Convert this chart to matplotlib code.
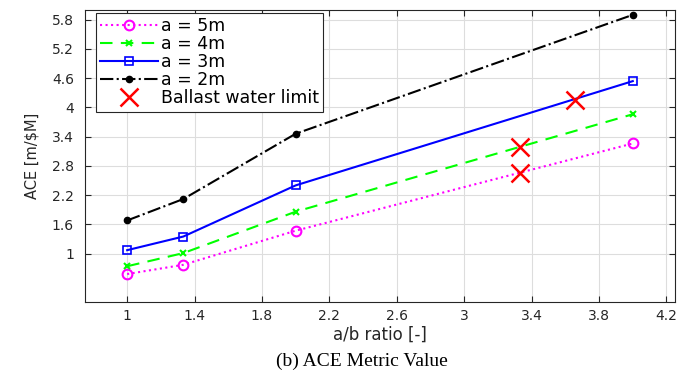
import matplotlib
matplotlib.use("Agg")
import matplotlib.pyplot as plt

# data
ratio = [1, 4/3, 2, 4]
ace_5m = [0.58, 0.77, 1.47, 3.26]
ace_4m = [0.74, 1.01, 1.86, 3.86]
ace_3m = [1.07, 1.35, 2.40, 4.54]
ace_2m = [1.68, 2.12, 3.46, 5.90]
limit_x = [3.33, 3.33, 3.66]
limit_y = [2.66, 3.18, 4.16]

xticks = [1, 1.4, 1.8, 2.2, 2.6, 3, 3.4, 3.8, 4.2]
yticks = [1, 1.6, 2.2, 2.8, 3.4, 4, 4.6, 5.2, 5.8]

plt.rcParams['font.family'] = ['DejaVu Sans']

fig = plt.figure(figsize=(6.94, 3.74), dpi=100)
ax = fig.add_axes([0.1225, 0.1917, 0.850, 0.7816])

ax.plot(ratio, ace_5m, ':', color='#ff00ff', lw=1.5, marker='o', ms=7,
        mfc='none', mew=1.5, label='a = 5m')
ax.plot(ratio, ace_4m, '--', color='#00ff00', lw=1.5, marker='x', ms=5,
        mew=1.5, dashes=(6, 4), label='a = 4m')
ax.plot(ratio, ace_3m, '-', color='#0000ff', lw=1.5, marker='s', ms=6,
        mfc='none', mew=1.2, label='a = 3m')
ax.plot(ratio, ace_2m, '-.', color='k', lw=1.5, marker='o', ms=4.5,
        label='a = 2m')
ax.plot(limit_x, limit_y, 'x', color='#ff0000', ms=13, mew=1.8, ls='none',
        label='Ballast water limit')

ax.set_xlim(0.75, 4.25)
ax.set_ylim(0, 6)
ax.set_xticks(xticks)
ax.set_xticklabels([('%g' % t) for t in xticks])
ax.set_yticks(yticks)
ax.set_yticklabels([('%g' % t) for t in yticks])
ax.grid(True, color='#dddddd', lw=0.8)
ax.set_axisbelow(True)
ax.tick_params(direction='in', top=True, right=True, labelsize=10,
               colors='#262626', length=4, width=0.8)
ax.tick_params(axis='y', pad=8)
ax.tick_params(axis='x', pad=5)
for s in ax.spines.values():
    s.set_color('#262626')
    s.set_linewidth(0.8)

ax.set_xlabel('a/b ratio [-]', fontsize=12, color='#262626', labelpad=2)
ax.set_ylabel('ACE [m/$M]', fontsize=10.5, color='#262626', labelpad=9)

leg = ax.legend(loc='upper left', bbox_to_anchor=(0.0186, 0.99), fontsize=12.5,
                handlelength=3.3, borderaxespad=0, borderpad=0.25,
                labelspacing=0.0, handletextpad=0.2, fancybox=False,
                framealpha=1, edgecolor='#262626')
leg.get_frame().set_linewidth(0.8)

fig.text(0.521, 0.034, '(b) ACE Metric Value', ha='center', va='center',
         fontsize=14, family='Liberation Serif')

fig.savefig('out.png', dpi=100)
